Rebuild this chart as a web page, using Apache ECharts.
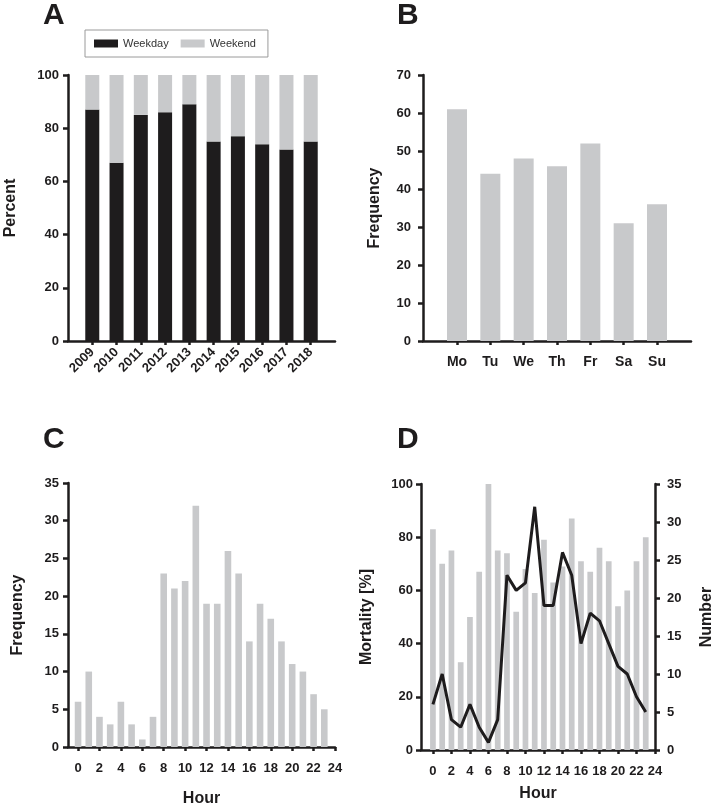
<!DOCTYPE html>
<html>
<head>
<meta charset="utf-8">
<script src="https://cdn.jsdelivr.net/npm/echarts@6/dist/echarts.min.js"></script>
<style>
html,body{margin:0;padding:0;background:#fff;}
#chart{width:716px;height:808px;}
</style>
</head>
<body>
<div id="chart"></div>
<script>
const years = ['2009','2010','2011','2012','2013','2014','2015','2016','2017','2018'];
const weekday = [87,67,85,86,89,75,77,74,72,75];
const weekend = [13,33,15,14,11,25,23,26,28,25];
const days = ['Mo','Tu','We','Th','Fr','Sa','Su'];
const dayFreq = [61,44,48,46,52,31,36];
const hours = [0,1,2,3,4,5,6,7,8,9,10,11,12,13,14,15,16,17,18,19,20,21,22,23];
const hourFreq = [6,10,4,3,6,3,1,4,23,21,22,32,19,19,26,23,14,19,17,14,11,10,7,5];
const mortality = [83,70,75,33,50,67,100,75,74,52,68,59,79,63,69,87,71,67,76,71,54,60,71,80];
const numberD = [6,10,4,3,6,3,1,4,23,21,22,32,19,19,26,23,14,18,17,14,11,10,7,5];
const hourTicks = [0,2,4,6,8,10,12,14,16,18,20,22,24];

const FONT = '"Liberation Sans", Arial, Helvetica, sans-serif';
const INK = '#1e1c1d';
const GRAY = '#c8c9cb';

const lineStyle = {color: INK, width: 2.5};
function labelStyle(extra){
  return Object.assign({color: INK, fontFamily: FONT, fontWeight: 'bold', fontSize: 13}, extra || {});
}
function nameStyle(){
  return {color: INK, fontFamily: FONT, fontWeight: 'bold', fontSize: 16};
}
function idx(n){ return Array.from({length:n}, (_, i) => i); }

// padded category list for panel A (empty slot at both ends)
const yearCats = [''].concat(years, [' ']);

const chart = echarts.init(document.getElementById('chart'), null, {renderer: 'canvas'});

const option = {
  animation: false,
  backgroundColor: '#fff',
  graphic: [
    {type:'text', left: 43, top: 1, style:{text:'A', font:'bold 30px ' + FONT, fill: INK}},
    {type:'text', left: 397, top: 1, style:{text:'B', font:'bold 30px ' + FONT, fill: INK}},
    {type:'text', left: 43, top: 425, style:{text:'C', font:'bold 30px ' + FONT, fill: INK}},
    {type:'text', left: 397, top: 425, style:{text:'D', font:'bold 30px ' + FONT, fill: INK}}
  ],
  legend: {
    left: 85, top: 30,
    data: ['Weekday', 'Weekend'],
    icon: 'rect', itemWidth: 24, itemHeight: 8, itemGap: 12,
    padding: [8, 12, 8, 9],
    borderColor: '#9a9a9a', borderWidth: 1,
    textStyle: {fontFamily: FONT, fontSize: 11, color: '#333'}
  },
  grid: [
    {left: 68, top: 75, width: 267, height: 266},
    {left: 423, top: 75, width: 268, height: 266},
    {left: 68, top: 483, width: 267, height: 266},
    {left: 421, top: 484, width: 236, height: 266}
  ],
  xAxis: [
    {
      type: 'category', gridIndex: 0, data: yearCats, boundaryGap: false,
      axisLine: {show: true, onZero: false, lineStyle},
      axisTick: {show: true, interval: (i, v) => String(v).trim() !== '', length: 4, lineStyle},
      axisLabel: {interval: 0, rotate: 45, margin: 9, ...labelStyle()},
      splitLine: {show: false}
    },
    {
      type: 'value', gridIndex: 1, min: -1.02, max: 7.02,
      axisLine: {show: true, onZero: false, lineStyle},
      axisTick: {show: true, customValues: idx(days.length), length: 4, lineStyle},
      axisLabel: {customValues: idx(days.length), formatter: v => days[v], margin: 14, ...labelStyle({fontSize: 14})},
      splitLine: {show: false}
    },
    {
      type: 'value', gridIndex: 2, min: -0.94, max: 24,
      name: 'Hour', nameLocation: 'middle', nameGap: 44, nameTextStyle: nameStyle(),
      axisLine: {show: true, onZero: false, lineStyle},
      axisTick: {show: true, customValues: hourTicks, length: 4, lineStyle},
      axisLabel: {customValues: hourTicks, margin: 15, ...labelStyle()},
      splitLine: {show: false}
    },
    {
      type: 'value', gridIndex: 3, min: -1.29, max: 24,
      name: 'Hour', nameLocation: 'middle', nameGap: 36, nameTextStyle: nameStyle(),
      axisLine: {show: true, onZero: false, lineStyle},
      axisTick: {show: true, customValues: hourTicks, length: 4, lineStyle},
      axisLabel: {customValues: hourTicks, margin: 15, ...labelStyle()},
      splitLine: {show: false}
    }
  ],
  yAxis: [
    {
      type: 'value', gridIndex: 0, min: 0, max: 100, interval: 20,
      name: 'Percent', nameLocation: 'middle', nameGap: 49, nameTextStyle: nameStyle(),
      axisLine: {show: true, onZero: false, lineStyle},
      axisTick: {show: true, length: 5, lineStyle},
      axisLabel: {margin: 9, ...labelStyle()},
      splitLine: {show: false}
    },
    {
      type: 'value', gridIndex: 1, min: 0, max: 70, interval: 10,
      name: 'Frequency', nameLocation: 'middle', nameGap: 40, nameTextStyle: nameStyle(),
      axisLine: {show: true, onZero: false, lineStyle},
      axisTick: {show: true, length: 5, lineStyle},
      axisLabel: {margin: 12, ...labelStyle()},
      splitLine: {show: false}
    },
    {
      type: 'value', gridIndex: 2, min: 0, max: 35, interval: 5,
      name: 'Frequency', nameLocation: 'middle', nameGap: 42, nameTextStyle: nameStyle(),
      axisLine: {show: true, onZero: false, lineStyle},
      axisTick: {show: true, length: 5, lineStyle},
      axisLabel: {margin: 9, ...labelStyle()},
      splitLine: {show: false}
    },
    {
      type: 'value', gridIndex: 3, min: 0, max: 100, interval: 20, position: 'left',
      name: 'Mortality [%]', nameLocation: 'middle', nameGap: 46, nameTextStyle: nameStyle(),
      axisLine: {show: true, onZero: false, lineStyle},
      axisTick: {show: true, length: 5, lineStyle},
      axisLabel: {margin: 8, ...labelStyle()},
      splitLine: {show: false}
    },
    {
      type: 'value', gridIndex: 3, min: 0, max: 35, interval: 5, position: 'right',
      name: 'Number', nameLocation: 'middle', nameGap: 44, nameRotate: 90, nameTextStyle: nameStyle(),
      axisLine: {show: true, onZero: false, lineStyle},
      axisTick: {show: true, length: 5, lineStyle},
      axisLabel: {margin: 12, ...labelStyle()},
      splitLine: {show: false}
    }
  ],
  series: [
    {
      name: 'Weekday', type: 'bar', xAxisIndex: 0, yAxisIndex: 0, stack: 'A', barWidth: 14,
      itemStyle: {color: INK},
      data: years.map((y, i) => [y, weekday[i]])
    },
    {
      name: 'Weekend', type: 'bar', xAxisIndex: 0, yAxisIndex: 0, stack: 'A', barWidth: 14,
      itemStyle: {color: GRAY},
      data: years.map((y, i) => [y, weekend[i]])
    },
    {
      name: 'Day', type: 'bar', xAxisIndex: 1, yAxisIndex: 1, barWidth: 20,
      itemStyle: {color: GRAY},
      data: days.map((d, i) => [i, dayFreq[i]])
    },
    {
      name: 'HourFreq', type: 'bar', xAxisIndex: 2, yAxisIndex: 2, barWidth: 6.6,
      itemStyle: {color: GRAY},
      data: hours.map((h, i) => [h, hourFreq[i]])
    },
    {
      name: 'Mortality', type: 'bar', xAxisIndex: 3, yAxisIndex: 3, barWidth: 5.7,
      itemStyle: {color: GRAY},
      data: hours.map((h, i) => [h, mortality[i]])
    },
    {
      name: 'Number', type: 'line', xAxisIndex: 3, yAxisIndex: 4, symbol: 'none',
      lineStyle: {color: INK, width: 3},
      data: hours.map((h, i) => [h, numberD[i]])
    }
  ]
};
chart.setOption(option);
</script>
</body>
</html>
